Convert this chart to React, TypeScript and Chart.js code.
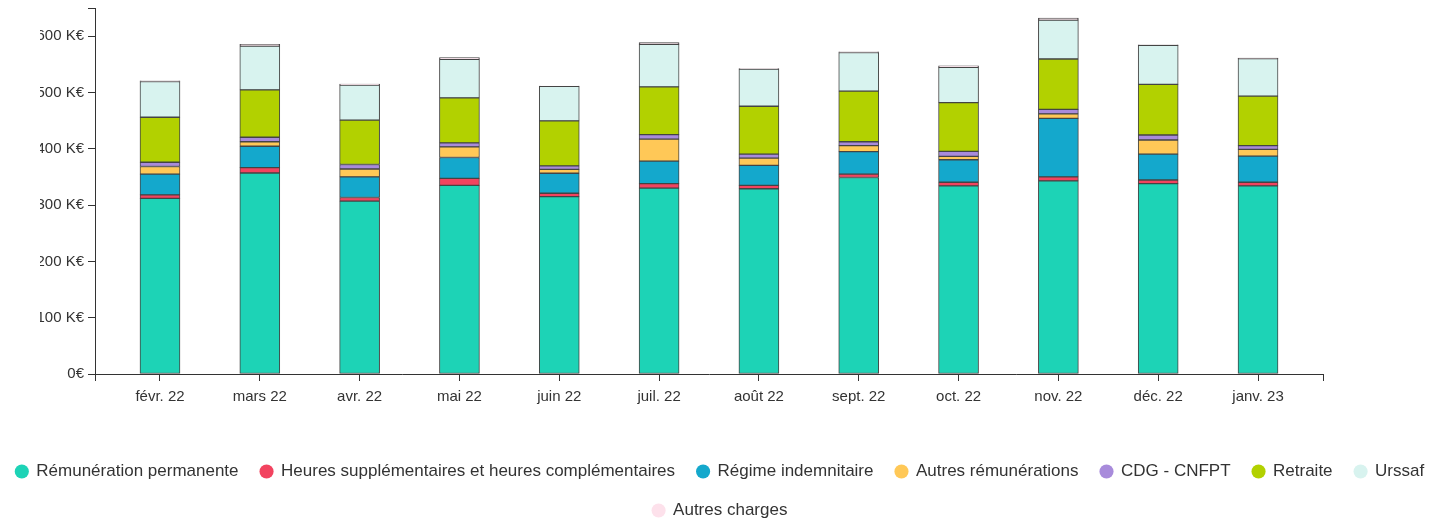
import { useEffect, useRef } from 'react';
import { Chart, registerables } from 'chart.js';

Chart.register(...registerables);

// Months (categories)
const months = ['févr. 22', 'mars 22', 'avr. 22', 'mai 22', 'juin 22', 'juil. 22', 'août 22', 'sept. 22', 'oct. 22', 'nov. 22', 'déc. 22', 'janv. 23'];

// Series values in K€
const remunerationPermanente = [312, 357, 307, 335, 315, 330, 329, 349, 334, 343, 338, 334];
const heuresSupplementaires = [6, 9.5, 6.5, 12.5, 6, 8, 6, 6, 6.5, 7, 6.5, 6.5];
const regimeIndemnitaire = [37, 38, 36.5, 37, 35.5, 40, 35.5, 40, 40, 104, 46, 46.5];
const autresRemunerations = [13.5, 8, 14, 19, 7, 39, 13, 10.5, 6, 8, 25, 12];
const cdgCnfpt = [7.5, 8, 8, 7, 6, 8, 7, 7, 9, 8, 9, 6.5];
const retraite = [80, 84, 79, 80, 80, 85, 85, 90, 86.5, 89.5, 90, 88];
const urssaf = [63.5, 78, 62, 68.5, 61.5, 75.5, 66, 68.5, 62.5, 69, 69, 66.5];
const autresCharges = [1, 3, 2, 3, 0.5, 3, 1, 1, 3, 3.5, 1, 1];

const seriesNames = [
  'Rémunération permanente',
  'Heures supplémentaires et heures complémentaires',
  'Régime indemnitaire',
  'Autres rémunérations',
  'CDG - CNFPT',
  'Retraite',
  'Urssaf',
  'Autres charges',
];
const seriesColors = ['#1DD3B6', '#F2435F', '#14A8CC', '#FFC857', '#A88BDB', '#B2D100', '#D8F3EF', '#FDE1EB'];

// Y ticks (K€)
const yTickValues = [0, 100, 200, 300, 400, 500, 600];
const yMaxK = 650;

const FONT = "'Liberation Sans', Arial, sans-serif";
const TEXT = '#333';
const AXIS = '#333';

export default function App() {
  const ref = useRef<HTMLCanvasElement>(null);

  useEffect(() => {
    const series = [
      remunerationPermanente,
      heuresSupplementaires,
      regimeIndemnitaire,
      autresRemunerations,
      cdgCnfpt,
      retraite,
      urssaf,
      autresCharges,
    ];
    const pad = 0.651;
    const xMin = -pad;
    const xMax = months.length - 1 + pad;

    const clipPlugin = {
      id: 'clipLeft',
      afterDraw(chart: any) {
        chart.ctx.clearRect(0, 0, 60, 395);
      },
    };

    const chart = new Chart(ref.current as HTMLCanvasElement, {
      type: 'bar',
      data: {
        datasets: series.map((vals, s) => ({
          label: seriesNames[s],
          data: vals.map((v, i) => ({ x: i, y: v * 1000 })),
          backgroundColor: seriesColors[s],
          borderColor: '#444',
          borderWidth: 1,
          borderSkipped: false,
          barThickness: 40,
        })),
      },
      options: {
        responsive: false,
        animation: false,
        layout: { padding: { top: 1, bottom: 8, left: 0, right: 0 } },
        scales: {
          x: {
            type: 'linear',
            stacked: true,
            offset: false,
            min: xMin,
            max: xMax,
            afterBuildTicks: (axis: any) => {
              axis.ticks = [xMin, ...months.map((_, i) => i), xMax].map((v) => ({ value: v }));
            },
            afterFit: (axis: any) => {
              axis.height = 67;
            },
            ticks: {
              autoSkip: false,
              maxRotation: 0,
              minRotation: 0,
              padding: 7,
              color: TEXT,
              font: { family: FONT, size: 15 },
              callback: (v: any) => (Number.isInteger(v) ? months[v] : ''),
            },
            grid: { display: true, offset: false, drawOnChartArea: false, drawTicks: true, tickLength: 7, color: AXIS, lineWidth: 1 },
            border: { display: true, color: AXIS, width: 1 },
          },
          y: {
            stacked: true,
            min: 0,
            max: yMaxK * 1000,
            afterBuildTicks: (axis: any) => {
              axis.ticks = [...yTickValues, yMaxK].map((v) => ({ value: v * 1000 }));
            },
            afterFit: (axis: any) => {
              axis.width = 115;
            },
            ticks: {
              padding: 4,
              color: TEXT,
              font: { family: FONT, size: 15 },
              callback: (v: any) => {
                const k = v / 1000;
                if (!yTickValues.includes(k)) return '';
                return k === 0 ? '0€' : `${k} K€`;
              },
            },
            grid: { display: true, drawOnChartArea: false, drawTicks: true, tickLength: 7, color: AXIS, lineWidth: 1 },
            border: { display: true, color: AXIS, width: 1 },
          },
          y2: {
            type: 'linear',
            position: 'right',
            display: true,
            afterFit: (axis: any) => {
              axis.width = 137;
            },
            grid: { display: false },
            ticks: { display: false },
            border: { display: false },
          },
        },
        plugins: {
          tooltip: { enabled: false },
          legend: {
            position: 'bottom',
            labels: {
              usePointStyle: true,
              pointStyle: 'circle',
              boxWidth: 12,
              boxHeight: 10,
              padding: 22,
              color: TEXT,
              font: { family: FONT, size: 17 },
              generateLabels: (c: any) => {
                const items = Chart.defaults.plugins.legend.labels.generateLabels(c);
                items.forEach((it: any) => {
                  it.lineWidth = 0;
                  it.strokeStyle = it.fillStyle;
                });
                return items;
              },
            },
          },
        },
      } as any,
      plugins: [clipPlugin],
    });
    return () => chart.destroy();
  }, []);

  return (
    <div style={{ position: 'absolute', left: 0, top: 0, width: 1453, height: 525, overflow: 'hidden' }}>
      <canvas ref={ref} width={1480} height={542} style={{ position: 'absolute', left: -20, top: -5 }} />
    </div>
  );
}
